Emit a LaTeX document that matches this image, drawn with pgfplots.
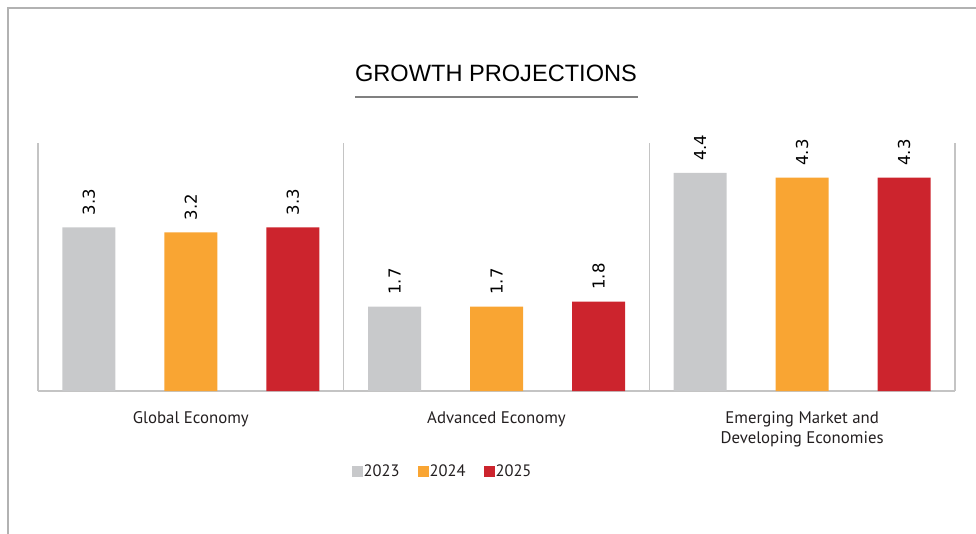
\documentclass[border=0pt]{standalone}
\usepackage{fontspec}
\setmainfont{PT Sans}
\newfontfamily\titlefont{Liberation Sans}
\newfontfamily\valfont{DejaVu Sans}
\usepackage{pgfplots}
\pgfplotsset{compat=1.18}
\definecolor{c23}{HTML}{C8C9CB}
\definecolor{c24}{HTML}{F9A533}
\definecolor{c25}{HTML}{CC242D}
\definecolor{gridgray}{HTML}{C4C4C4}
\definecolor{txt}{HTML}{231F20}
\begin{document}
\begin{tikzpicture}
\path[use as bounding box] (0pt,0pt) rectangle (976pt,-534pt);
\draw[color=gray!60, line width=1.5pt] (8pt,-534pt) -- (8pt,-8pt) -- (976pt,-8pt);
\node[font=\titlefont\fontsize{23.6}{26}\selectfont, text=black, inner sep=0pt] at (496pt,-73.5pt) {GROWTH PROJECTIONS};
\draw[color=gray, line width=2pt] (355pt,-97pt) -- (638pt,-97pt);
\begin{axis}[
    at={(38pt,-391pt)}, anchor=south west,
    scale only axis, width=917pt, height=248pt,
    xmin=-0.5, xmax=2.5, ymin=0, ymax=5,
    enlargelimits=false, clip=false,
    ybar=49pt, bar width=53pt,
    axis x line*=bottom, axis y line=none,
    x axis line style={draw=gridgray, line width=1.5pt},
    xtick={0,1,2},
    xticklabels={Global Economy, Advanced Economy, {Emerging Market and\\Developing Economies}},
    major tick length=0pt,
    xticklabel style={align=center, font=\fontsize{16.8}{20}\selectfont, text=txt, yshift=-17pt},
    extra x ticks={-0.5,0.5,1.5,2.5},
    extra x tick labels={},
    extra x tick style={grid=major, major grid style={draw=gridgray, line width=1.5pt}},
    nodes near coords={\pgfmathprintnumber[fixed, fixed zerofill, precision=1, assume math mode=true]{\pgfplotspointmeta}},
    every node near coord/.append style={rotate=90, anchor=west, inner xsep=12pt, inner ysep=0pt, outer sep=0pt,
        font=\valfont\fontsize{16.5}{16}\selectfont, text=black},
    legend style={at={(axis description cs:0.4406,-0.3226)}, anchor=center, draw=none,
        font=\fontsize{16.5}{18}\selectfont, text=txt,
        nodes={inner xsep=1pt, inner ysep=1pt},
        /tikz/every even column/.append style={column sep=17pt}},
    legend columns=3,
    legend image code/.code={\fill[#1] (0pt,-5.5pt) rectangle (11pt,5.5pt);},
]
\addplot[draw=none, fill=c23] coordinates {(0,3.3) (1,1.7) (2,4.4)};
\addplot[draw=none, fill=c24] coordinates {(0,3.2) (1,1.7) (2,4.3)};
\addplot[draw=none, fill=c25] coordinates {(0,3.3) (1,1.8) (2,4.3)};
\legend{2023,2024,2025}
\end{axis}
\end{tikzpicture}
\end{document}
